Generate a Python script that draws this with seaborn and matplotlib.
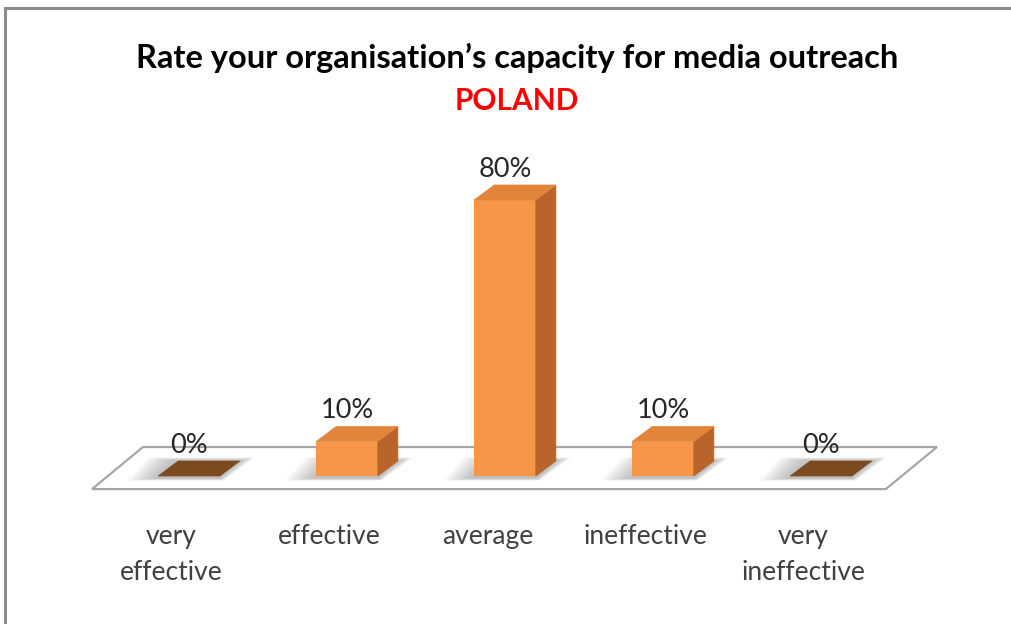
import matplotlib
matplotlib.use("Agg")
import matplotlib.pyplot as plt
import seaborn as sns
import pandas as pd
from matplotlib.patches import Polygon, Rectangle

categories = ["very\neffective", "effective", "average", "ineffective", "very\nineffective"]
values = [0, 10, 80, 10, 0]
value_labels = ["0%", "10%", "80%", "10%", "0%"]
title_text = "Rate your organisation\u2019s capacity for media outreach"
subtitle_text = "POLAND"

sns.set_theme(style="white")
plt.rcParams["font.family"] = ["Lato", "DejaVu Sans"]

W, H = 1011, 624
fig = plt.figure(figsize=(W / 100, H / 100), dpi=100)
ax = fig.add_axes([0, 0, 1, 1])
ax.set_facecolor("none")
fig.patch.set_facecolor("white")

df = pd.DataFrame({"cat": categories, "val": values})
front = "#F79646"
sns.barplot(data=df, x="cat", y="val", color=front, saturation=1, width=0.39,
            ax=ax, zorder=3, linewidth=0)

# pixel mapping: category i centre at px 189 + 158 i ; value 0 at py 476, 3.45 px per unit
ax.set_xlim(-189 / 158, (W - 189) / 158)
ax.set_ylim((476 - H) / 3.45, 476 / 3.45)

dx, dy = 0.127, 4.35

# floor
floor = Polygon([(-0.614, -3.8), (4.41, -3.8), (4.734, 8.4), (-0.291, 8.4)],
                closed=True, facecolor="white", edgecolor="#a6a6a6", lw=1.6, zorder=1)
ax.add_patch(floor)

bars = ax.patches[:len(values)]
for p, v, lab in zip(bars, values, value_labels):
    x0 = p.get_x(); w = p.get_width(); h = p.get_height()
    # soft shadow around the base
    n = 10
    for k in range(n):
        ex = 0.012 * (n - k)
        ey = 0.35 * (n - k)
        sh = Polygon([(x0 - ex * 1.6, -0.6 - ey * 0.2), (x0 + w + ex * 0.2, -0.6 - ey * 0.2),
                      (x0 + w + dx + ex * 0.8, dy + ey * 0.3), (x0 + dx - ex * 1.6, dy + ey * 0.3)],
                     closed=True, facecolor="#7a7a7a", alpha=0.06, lw=0, zorder=2)
        ax.add_patch(sh)
    if h > 0:
        top = Polygon([(x0, h), (x0 + w, h), (x0 + w + dx, h + dy), (x0 + dx, h + dy)],
                      closed=True, facecolor="#E2843A", edgecolor="#E2843A", lw=0.5, zorder=4)
        side = Polygon([(x0 + w, 0), (x0 + w + dx, dy), (x0 + w + dx, h + dy), (x0 + w, h)],
                       closed=True, facecolor="#B8642A", edgecolor="#B8642A", lw=0.5, zorder=4)
        ax.add_patch(side); ax.add_patch(top)
    else:
        top = Polygon([(x0, 0), (x0 + w, 0), (x0 + w + dx, dy), (x0 + dx, dy)],
                      closed=True, facecolor="#7B4A1F", edgecolor="#7B4A1F", lw=0.5, zorder=4)
        ax.add_patch(top)
    ax.text(x0 + w / 2, h + dy + 1.0, lab, ha="center", va="bottom",
            fontsize=19.5, color="#262626", zorder=6)

ax.set_xticks([])
ax.set_yticks([])
ax.set_xlabel(""); ax.set_ylabel("")
for s in ax.spines.values():
    s.set_visible(False)

for i, c in enumerate(categories):
    ax.text(i - 0.11, (476 - 524) / 3.45, c, ha="center", va="top", fontsize=19,
            color="#404040", linespacing=1.55)

fig.text(517 / W, 1 - 58 / H, title_text, ha="center", va="center",
         fontsize=23.5, fontweight="bold", color="#000000")
fig.text(517 / W, 1 - 101 / H, subtitle_text, ha="center", va="center",
         fontsize=21.5, fontweight="bold", color="#FF0000")

# chart border (top and left visible)
fig.add_artist(Rectangle((5 / W, -0.1), 1.2, 1 - 8 / H + 0.1, transform=fig.transFigure,
                         fill=False, edgecolor="#8c8c8c", lw=2.2))

fig.savefig("out.png", dpi=100)
